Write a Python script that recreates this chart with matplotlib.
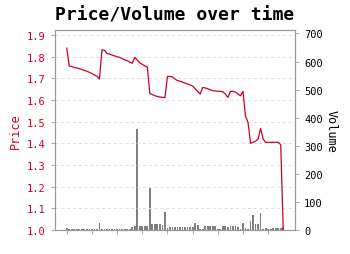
import numpy as np
import matplotlib
matplotlib.use("Agg")
import matplotlib.pyplot as plt

# daily series, index = trading day
price = [1.840, 1.757, 1.755, 1.751, 1.748, 1.745, 1.741, 1.737, 1.733, 1.728,
         1.722, 1.716, 1.710, 1.697, 1.832, 1.830, 1.815, 1.812, 1.808, 1.804,
         1.800, 1.797, 1.792, 1.786, 1.782, 1.776, 1.770, 1.797, 1.785, 1.772,
         1.765, 1.758, 1.752, 1.630, 1.625, 1.620, 1.617, 1.614, 1.613, 1.611,
         1.709, 1.709, 1.707, 1.697, 1.690, 1.687, 1.683, 1.678, 1.674, 1.670,
         1.665, 1.652, 1.640, 1.628, 1.658, 1.656, 1.652, 1.648, 1.643, 1.642,
         1.641, 1.640, 1.638, 1.628, 1.612, 1.640, 1.640, 1.637, 1.628, 1.620,
         1.640, 1.527, 1.497, 1.400, 1.405, 1.410, 1.420, 1.469, 1.420, 1.405,
         1.405, 1.405, 1.405, 1.405, 1.405, 1.394, 1.000]
volume = [8, 4, 5, 4, 4, 5, 4, 4, 5, 4,
          4, 5, 4, 25, 4, 4, 4, 5, 4, 4,
          4, 5, 4, 4, 4, 4, 10, 13, 359, 13,
          13, 13, 13, 149, 21, 21, 21, 21, 17, 63,
          7, 10, 10, 10, 10, 10, 10, 10, 10, 10,
          10, 25, 19, 3, 3, 13, 13, 13, 13, 13,
          3, 5, 13, 13, 12, 13, 13, 13, 11, 3,
          24, 7, 3, 33, 53, 21, 21, 60, 3, 7,
          2, 3, 8, 8, 8, 8, 10]
days = np.arange(len(price))
price_ticks = np.arange(1.0, 1.95, 0.1)
volume_ticks = list(range(0, 701, 100))

mono = "DejaVu Sans Mono"
red = "#cc0022"

fig = plt.figure(figsize=(3.5, 2.55), dpi=100)
ax = fig.add_axes([0.157, 0.094, 0.686, 0.784])
ax2 = ax.twinx()

ax2.bar(days, volume, width=0.7, color="#808080")
ax2.set_ylim(0, 712)
ax2.set_yticks(volume_ticks)

ax.plot(days, price, color=red, linewidth=0.9)
ax.set_ylim(1.0, 1.923)
ax.set_yticks(price_ticks)
ax.set_xticks(range(0, 90, 10))
ax.set_xticklabels([])
ax.set_zorder(ax2.get_zorder() + 1)
ax.patch.set_visible(False)
ax.grid(axis="y", linestyle=(0, (3, 3)), color="#dddddd", linewidth=0.7)

for a in (ax, ax2):
    for s in a.spines.values():
        s.set_color("#999999")
    a.tick_params(length=3, width=0.6, color="#999999")

ax.tick_params(axis="y", labelcolor=red, labelsize=7.5)
ax2.tick_params(axis="y", labelcolor="black", labelsize=7.5)
ax.set_yticklabels([f"{v:.1f}" for v in price_ticks], family=mono)
ax2.set_yticklabels([str(v) for v in volume_ticks], family=mono)

ax.set_ylabel("Price", color=red, family=mono, fontsize=8.5)
ax2.set_ylabel("Volume", color="black", family=mono, fontsize=8.5, rotation=270, labelpad=11)
fig.suptitle("Price/Volume over time", family=mono, fontweight="bold", fontsize=13, y=0.975)

fig.savefig("out.png", dpi=100)
